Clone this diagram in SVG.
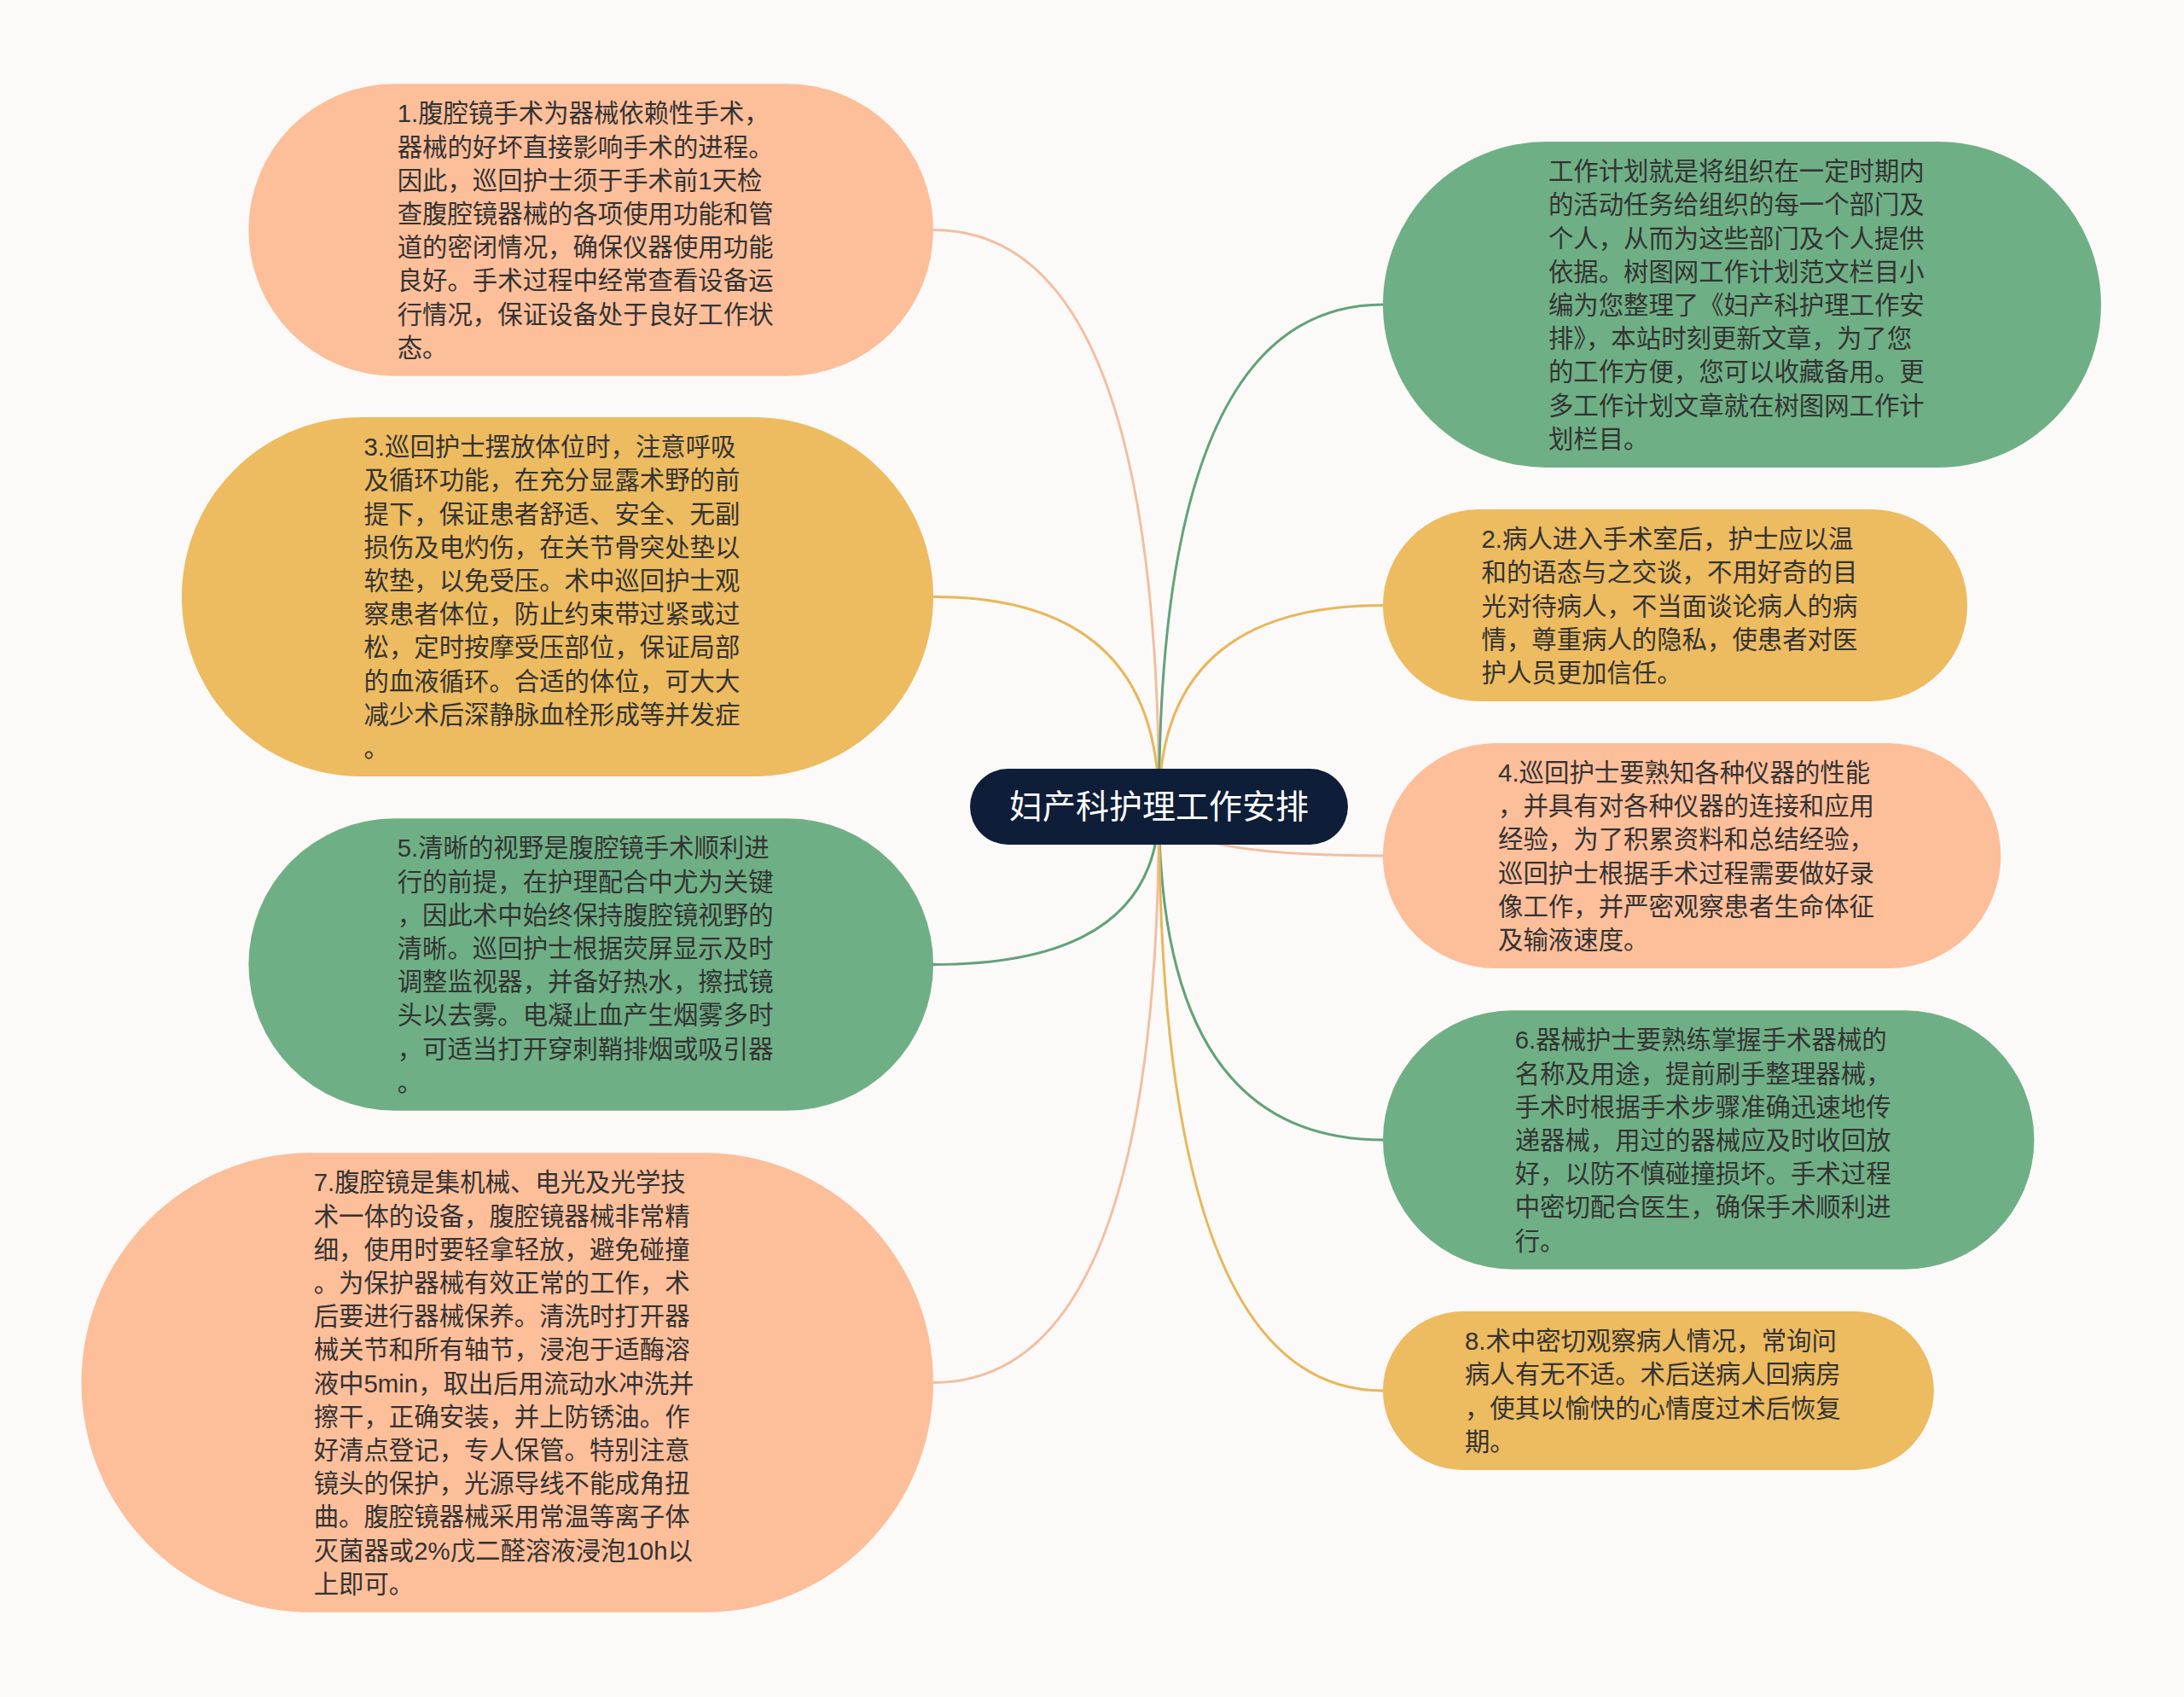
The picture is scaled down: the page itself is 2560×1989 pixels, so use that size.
<svg xmlns="http://www.w3.org/2000/svg" width="2560" height="1989" viewBox="0 0 2560 1989">
<style>
.bg{fill:#FCFAF8}
.salmon{fill:#FDBE9A}
.mustard{fill:#EDBB60}
.green{fill:#6FAF85}
.center{fill:#0E1E38}
.t{font-family:"Liberation Sans","Noto Sans CJK SC",sans-serif;font-size:29.4px;fill:#333333}
.title{font-family:"Liberation Sans","Noto Sans CJK SC",sans-serif;font-size:39px;fill:#FFFFFF;text-anchor:middle}
.c{fill:none;stroke-width:3}
.cs{stroke:#F3BEA2}
.cm{stroke:#E8B75C}
.cg{stroke:#62A27B}
</style>
<rect class="bg" x="0" y="0" width="2560" height="1989"/>
<g id="connectors">
<path class="c cs" d="M1358.5 945 Q1358.5 269.5 1094 269.5"/>
<path class="c cm" d="M1358.5 945 Q1358.5 699.5 1094 699.5"/>
<path class="c cg" d="M1358.5 945 Q1358.5 1130.5 1094 1130.5"/>
<path class="c cs" d="M1358.5 945 Q1358.5 1620.5 1094 1620.5"/>
<path class="c cg" d="M1358.5 945 Q1358.5 357 1621 357"/>
<path class="c cm" d="M1358.5 945 Q1358.5 709.5 1621 709.5"/>
<path class="c cs" d="M1358.5 945 Q1358.5 1003 1621 1003"/>
<path class="c cg" d="M1358.5 945 Q1358.5 1336 1621 1336"/>
<path class="c cm" d="M1358.5 945 Q1358.5 1630 1621 1630"/>
</g>
<g id="root">
<rect class="center" x="1137" y="901" width="443" height="89" rx="44.5" ry="44.5"/>
<text class="title" x="1358.5" y="959">妇产科护理工作安排</text>
</g>
<g id="node1">
<rect class="salmon" x="291.4" y="98.2" width="802.6" height="342.6" rx="171.3" ry="171.3"/>
<text class="t">
<tspan x="465.7" y="143.3">1.腹腔镜手术为器械依赖性手术，</tspan>
<tspan x="465.7" y="182.5">器械的好坏直接影响手术的进程。</tspan>
<tspan x="465.7" y="221.7">因此，巡回护士须于手术前1天检</tspan>
<tspan x="465.7" y="260.9">查腹腔镜器械的各项使用功能和管</tspan>
<tspan x="465.7" y="300.1">道的密闭情况，确保仪器使用功能</tspan>
<tspan x="465.7" y="339.3">良好。手术过程中经常查看设备运</tspan>
<tspan x="465.7" y="378.5">行情况，保证设备处于良好工作状</tspan>
<tspan x="465.7" y="417.7">态。</tspan>
</text>
</g>
<g id="node3">
<rect class="mustard" x="213" y="489" width="881" height="421" rx="210.5" ry="210.5"/>
<text class="t">
<tspan x="426.5" y="534.1">3.巡回护士摆放体位时，注意呼吸</tspan>
<tspan x="426.5" y="573.3">及循环功能，在充分显露术野的前</tspan>
<tspan x="426.5" y="612.5">提下，保证患者舒适、安全、无副</tspan>
<tspan x="426.5" y="651.7">损伤及电灼伤，在关节骨突处垫以</tspan>
<tspan x="426.5" y="690.9">软垫，以免受压。术中巡回护士观</tspan>
<tspan x="426.5" y="730.1">察患者体位，防止约束带过紧或过</tspan>
<tspan x="426.5" y="769.3">松，定时按摩受压部位，保证局部</tspan>
<tspan x="426.5" y="808.5">的血液循环。合适的体位，可大大</tspan>
<tspan x="426.5" y="847.7">减少术后深静脉血栓形成等并发症</tspan>
<tspan x="426.5" y="886.9">。</tspan>
</text>
</g>
<g id="node5">
<rect class="green" x="291.4" y="959.2" width="802.6" height="342.6" rx="171.3" ry="171.3"/>
<text class="t">
<tspan x="465.7" y="1004.3">5.清晰的视野是腹腔镜手术顺利进</tspan>
<tspan x="465.7" y="1043.5">行的前提，在护理配合中尤为关键</tspan>
<tspan x="465.7" y="1082.7">，因此术中始终保持腹腔镜视野的</tspan>
<tspan x="465.7" y="1121.9">清晰。巡回护士根据荧屏显示及时</tspan>
<tspan x="465.7" y="1161.1">调整监视器，并备好热水，擦拭镜</tspan>
<tspan x="465.7" y="1200.3">头以去雾。电凝止血产生烟雾多时</tspan>
<tspan x="465.7" y="1239.5">，可适当打开穿刺鞘排烟或吸引器</tspan>
<tspan x="465.7" y="1278.7">。</tspan>
</text>
</g>
<g id="node7">
<rect class="salmon" x="95.4" y="1351.2" width="998.6" height="538.6" rx="269.3" ry="269.3"/>
<text class="t">
<tspan x="367.7" y="1396.3">7.腹腔镜是集机械、电光及光学技</tspan>
<tspan x="367.7" y="1435.5">术一体的设备，腹腔镜器械非常精</tspan>
<tspan x="367.7" y="1474.7">细，使用时要轻拿轻放，避免碰撞</tspan>
<tspan x="367.7" y="1513.9">。为保护器械有效正常的工作，术</tspan>
<tspan x="367.7" y="1553.1">后要进行器械保养。清洗时打开器</tspan>
<tspan x="367.7" y="1592.3">械关节和所有轴节，浸泡于适酶溶</tspan>
<tspan x="367.7" y="1631.5">液中5min，取出后用流动水冲洗并</tspan>
<tspan x="367.7" y="1670.7">擦干，正确安装，并上防锈油。作</tspan>
<tspan x="367.7" y="1709.9">好清点登记，专人保管。特别注意</tspan>
<tspan x="367.7" y="1749.1">镜头的保护，光源导线不能成角扭</tspan>
<tspan x="367.7" y="1788.3">曲。腹腔镜器械采用常温等离子体</tspan>
<tspan x="367.7" y="1827.5">灭菌器或2%戊二醛溶液浸泡10h以</tspan>
<tspan x="367.7" y="1866.7">上即可。</tspan>
</text>
</g>
<g id="intro">
<rect class="green" x="1621" y="166.1" width="841.8" height="381.8" rx="190.9" ry="190.9"/>
<text class="t">
<tspan x="1814.9" y="211.2">工作计划就是将组织在一定时期内</tspan>
<tspan x="1814.9" y="250.4">的活动任务给组织的每一个部门及</tspan>
<tspan x="1814.9" y="289.6">个人，从而为这些部门及个人提供</tspan>
<tspan x="1814.9" y="328.8">依据。树图网工作计划范文栏目小</tspan>
<tspan x="1814.9" y="368">编为您整理了《妇产科护理工作安</tspan>
<tspan x="1814.9" y="407.2">排》，本站时刻更新文章，为了您</tspan>
<tspan x="1814.9" y="446.4">的工作方便，您可以收藏备用。更</tspan>
<tspan x="1814.9" y="485.6">多工作计划文章就在树图网工作计</tspan>
<tspan x="1814.9" y="524.8">划栏目。</tspan>
</text>
</g>
<g id="node2">
<rect class="mustard" x="1621" y="597" width="685" height="225" rx="112.5" ry="112.5"/>
<text class="t">
<tspan x="1736.5" y="642.1">2.病人进入手术室后，护士应以温</tspan>
<tspan x="1736.5" y="681.3">和的语态与之交谈，不用好奇的目</tspan>
<tspan x="1736.5" y="720.5">光对待病人，不当面谈论病人的病</tspan>
<tspan x="1736.5" y="759.7">情，尊重病人的隐私，使患者对医</tspan>
<tspan x="1736.5" y="798.9">护人员更加信任。</tspan>
</text>
</g>
<g id="node4">
<rect class="salmon" x="1621" y="870.9" width="724.2" height="264.2" rx="132.1" ry="132.1"/>
<text class="t">
<tspan x="1756.1" y="916">4.巡回护士要熟知各种仪器的性能</tspan>
<tspan x="1756.1" y="955.2">，并具有对各种仪器的连接和应用</tspan>
<tspan x="1756.1" y="994.4">经验，为了积累资料和总结经验，</tspan>
<tspan x="1756.1" y="1033.6">巡回护士根据手术过程需要做好录</tspan>
<tspan x="1756.1" y="1072.8">像工作，并严密观察患者生命体征</tspan>
<tspan x="1756.1" y="1112">及输液速度。</tspan>
</text>
</g>
<g id="node6">
<rect class="green" x="1621" y="1184.3" width="763.4" height="303.4" rx="151.7" ry="151.7"/>
<text class="t">
<tspan x="1775.7" y="1229.4">6.器械护士要熟练掌握手术器械的</tspan>
<tspan x="1775.7" y="1268.6">名称及用途，提前刷手整理器械，</tspan>
<tspan x="1775.7" y="1307.8">手术时根据手术步骤准确迅速地传</tspan>
<tspan x="1775.7" y="1347">递器械，用过的器械应及时收回放</tspan>
<tspan x="1775.7" y="1386.2">好，以防不慎碰撞损坏。手术过程</tspan>
<tspan x="1775.7" y="1425.4">中密切配合医生，确保手术顺利进</tspan>
<tspan x="1775.7" y="1464.6">行。</tspan>
</text>
</g>
<g id="node8">
<rect class="mustard" x="1621" y="1537.1" width="645.8" height="185.8" rx="92.9" ry="92.9"/>
<text class="t">
<tspan x="1716.9" y="1582.2">8.术中密切观察病人情况，常询问</tspan>
<tspan x="1716.9" y="1621.4">病人有无不适。术后送病人回病房</tspan>
<tspan x="1716.9" y="1660.6">，使其以愉快的心情度过术后恢复</tspan>
<tspan x="1716.9" y="1699.8">期。</tspan>
</text>
</g>
</svg>
